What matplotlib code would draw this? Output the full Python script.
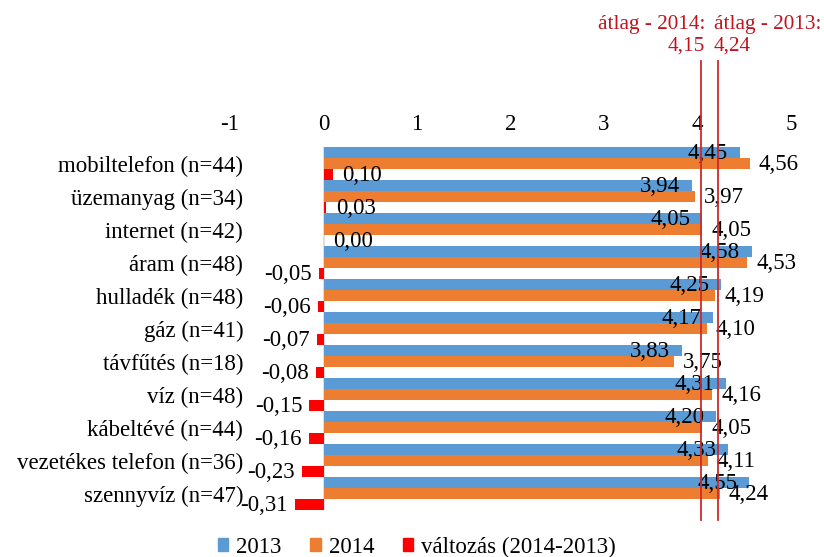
import matplotlib
matplotlib.use("Agg")
import matplotlib.pyplot as plt
from matplotlib.patches import Patch
import matplotlib.transforms as mtransforms

plt.rcParams['font.family'] = ['Liberation Serif', 'DejaVu Serif']

categories = ["mobiltelefon (n=44)", "üzemanyag (n=34)", "internet (n=42)", "áram (n=48)",
              "hulladék (n=48)", "gáz (n=41)", "távfűtés (n=18)", "víz (n=48)",
              "kábeltévé (n=44)", "vezetékes telefon (n=36)", "szennyvíz (n=47)"]
v2013 = [4.45, 3.94, 4.05, 4.58, 4.25, 4.17, 3.83, 4.31, 4.20, 4.33, 4.55]
v2014 = [4.56, 3.97, 4.05, 4.53, 4.19, 4.10, 3.75, 4.16, 4.05, 4.11, 4.24]
change = [0.10, 0.03, 0.00, -0.05, -0.06, -0.07, -0.08, -0.15, -0.16, -0.23, -0.31]
series_names = ["2013", "2014", "változás (2014-2013)"]
xticks = [-1, 0, 1, 2, 3, 4, 5]
xtick_labels = ["-1", "0", "1", "2", "3", "4", "5"]
mean_line_x = [4.04, 4.22]          # drawn positions of the average lines
mean_texts = ["átlag - 2014:\n4,15", "átlag - 2013:\n4,24"]

c_blue = '#5B9BD5'
c_orange = '#ED7D31'
c_red = '#FF0000'
c_ann = '#C0141E'
FS = 16.5

fig = plt.figure(figsize=(8.24, 5.57), dpi=100)
ax = fig.add_axes([230/824, 1-510/557, 561/824, 363/557])

n = len(categories)
ys = list(range(n))
h = 1/3
ax.barh([y - h for y in ys], v2013, height=h, color=c_blue, zorder=2)
ax.barh(ys, v2014, height=h, color=c_orange, zorder=2)
ax.barh([y + h for y in ys], change, height=h, color=c_red, zorder=2)

def fmt(v):
    return f"{v:.2f}".replace('.', ',')

for y, a, b, c in zip(ys, v2013, v2014, change):
    ax.annotate(fmt(a), (a, y - h), xytext=(-8.5, -1), textcoords='offset points',
                ha='right', va='center', fontsize=FS, zorder=5)
    ax.annotate(fmt(b), (b, y), xytext=(6.5, -1), textcoords='offset points',
                ha='left', va='center', fontsize=FS, zorder=5)
    if c >= 0:
        ax.annotate(fmt(c), (c, y + h), xytext=(7, -1), textcoords='offset points',
                    ha='left', va='center', fontsize=FS, zorder=5)
    else:
        ax.annotate(fmt(c), (c, y + h), xytext=(-5, -1), textcoords='offset points',
                    ha='right', va='center', fontsize=FS, zorder=5)

ax.axvline(0, color='#D9D9D9', lw=1.2, zorder=1)

ax.set_xlim(-1, 5)
ax.set_ylim(n - 0.5, -0.5)
ax.xaxis.tick_top()
ax.set_xticks(xticks)
ax.set_xticklabels(xtick_labels, fontsize=FS)
ax.tick_params(axis='x', length=0, pad=8.5)
ax.set_yticks(ys)
ax.set_yticklabels(categories, fontsize=FS)
ax.tick_params(axis='y', length=0, pad=-9.5)
for s in ax.spines.values():
    s.set_visible(False)

trans = mtransforms.blended_transform_factory(ax.transData, ax.transAxes)
y0 = (510 - 520) / 363
y1 = (510 - 61) / 363
for x in mean_line_x:
    ax.plot([x, x], [y0, y1], transform=trans, color='#CC2A2A', lw=1.3,
            clip_on=False, zorder=6)

FA = 15.3
fig.text(705/824, 1-35/557, mean_texts[0], ha='right', va='center', multialignment='right',
         color=c_ann, fontsize=FA, linespacing=1.2)
fig.text(714/824, 1-35/557, mean_texts[1], ha='left', va='center', multialignment='left',
         color=c_ann, fontsize=FA, linespacing=1.2)

handles = [Patch(color=c_blue), Patch(color=c_orange), Patch(color=c_red)]
fig.legend(handles, series_names, loc='center', bbox_to_anchor=(0.506, 10/557), ncol=3,
           frameon=False, fontsize=FS, handlelength=0.45, handleheight=0.45,
           handletextpad=0.35, columnspacing=1.25, borderaxespad=0)

fig.savefig('out.png', dpi=100)
